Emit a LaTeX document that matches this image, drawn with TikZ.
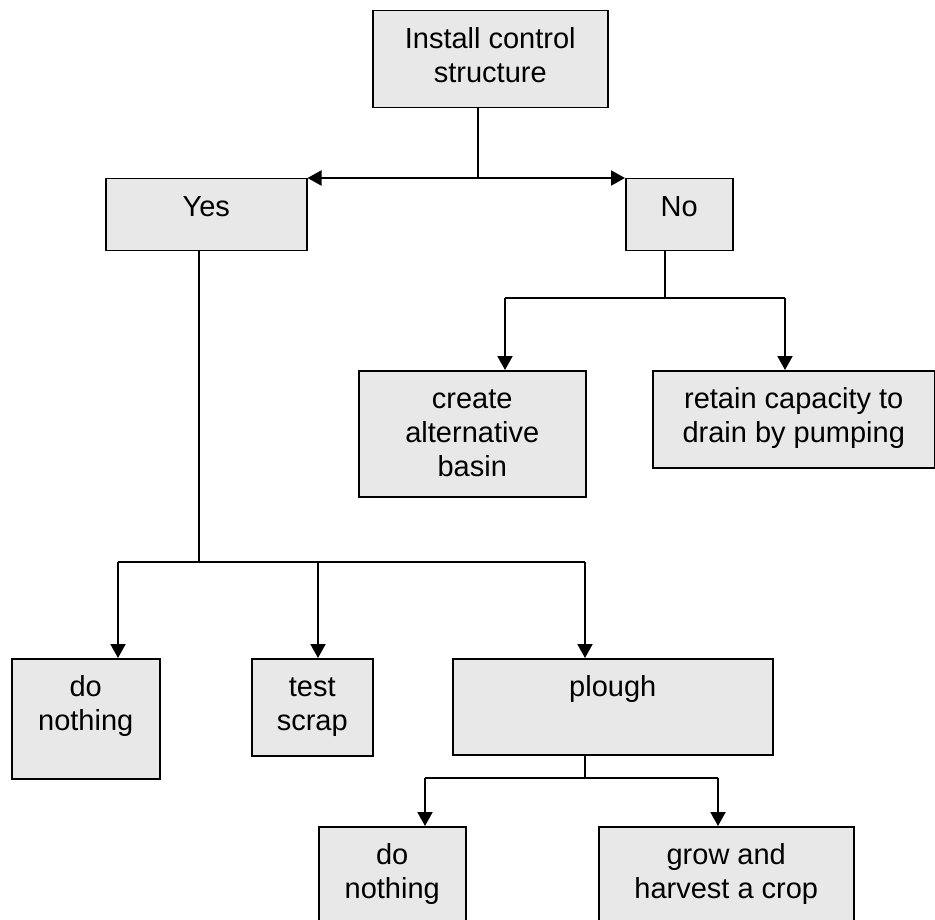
\documentclass[tikz,border=0pt]{standalone}
\usepackage{fontspec}
\setmainfont{Liberation Sans}
\usetikzlibrary{arrows.meta}
\definecolor{boxgray}{RGB}{232,232,232}
\newcommand\bt[3]{\parbox[c][#2][t]{#1}{\centering\vspace*{14pt}\strut #3}}
\begin{document}
\begin{tikzpicture}[x=1pt,y=-1pt,
 bx/.style={draw=black, fill=boxgray, line width=1.5pt, inner sep=0pt, anchor=north west, font=\fontsize{29}{34}\selectfont},
 stem/.style={line width=1.2pt},
 bar/.style={line width=1.6pt},
 arr/.style={line width=2pt, -{Triangle[length=14pt,width=15pt]}},
 dblarr/.style={line width=2pt, {Triangle[length=14pt,width=15pt]}-{Triangle[length=14pt,width=15pt]}}
]
\useasboundingbox (0,0) rectangle (935,920);
\clip (0,0) rectangle (935,920);

\node[bx] (install) at (372,10) {\bt{235pt}{97pt}{Install control\\structure}};
\node[bx] (yes) at (105,178) {\bt{201pt}{72pt}{Yes}};
\node[bx] (no) at (625,178) {\bt{107pt}{72pt}{No}};
\node[bx] (create) at (358,370) {\bt{227pt}{126pt}{create\\alternative\\basin}};
\node[bx] (retain) at (652,370) {\bt{282pt}{97pt}{retain capacity to\\drain by pumping}};
\node[bx] (do1) at (11,658) {\bt{148pt}{120pt}{do\\nothing}};
\node[bx] (test) at (251,658) {\bt{121pt}{97pt}{test\\scrap}};
\node[bx] (plough) at (452,658) {\bt{320pt}{96pt}{plough}};
\node[bx] (do2) at (318,826) {\bt{147pt}{110pt}{do\\nothing}};
\node[bx] (grow) at (598,826) {\bt{255pt}{110pt}{grow and\\harvest a crop}};

% top split
\coordinate (j0) at (478,178);
\draw[stem] (install.south -| j0) -- (j0);
\draw[dblarr] (yes.north east) -- (no.north west);

% yes branch
\coordinate (j1) at (199,562);
\coordinate (d1) at (118,562);
\coordinate (d2) at (318,562);
\coordinate (d3) at (585,562);
\draw[stem] (yes.south -| j1) -- (j1);
\draw[bar] (d1) -- (d3);
\draw[arr] (d1) -- (do1.north -| d1);
\draw[arr] (d2) -- (test.north -| d2);
\draw[arr] (d3) -- (plough.north -| d3);

% no branch
\coordinate (j2) at (665,298);
\coordinate (c1) at (505,298);
\coordinate (c2) at (785,298);
\draw[stem] (no.south -| j2) -- (j2);
\draw[bar] (c1) -- (c2);
\draw[arr] (c1) -- (create.north -| c1);
\draw[arr] (c2) -- (retain.north -| c2);

% plough branch
\coordinate (j3) at (585,778);
\coordinate (p1) at (425,778);
\coordinate (p2) at (718,778);
\draw[stem] (plough.south -| j3) -- (j3);
\draw[bar] (p1) -- (p2);
\draw[arr] (p1) -- (do2.north -| p1);
\draw[arr] (p2) -- (grow.north -| p2);
\end{tikzpicture}
\end{document}
